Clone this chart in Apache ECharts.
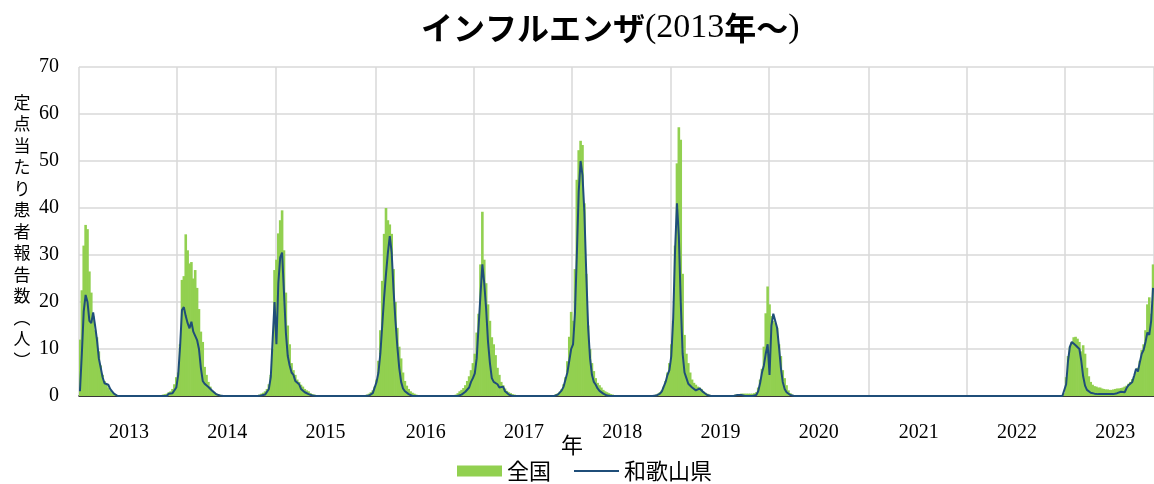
<!DOCTYPE html>
<html><head><meta charset="utf-8">
<script src="https://cdn.jsdelivr.net/npm/echarts@6/dist/echarts.min.js"></script>
<style>html,body{margin:0;padding:0;background:#fff}#c{width:1154px;height:484px}</style>
</head><body><div id="c"></div>
<script>
const years = [2013, 2014, 2015, 2016, 2017, 2018, 2019, 2020, 2021, 2022, 2023];

const national2013 = [12, 22.5, 32, 36.4, 35.5, 26.5, 22, 17, 14, 12.5,
 9.5, 6.5, 4.5, 3.2, 2.6, 1.8, 1.2, 0.8, 0.5, 0.3,
 0.2, 0.1, 0.1, 0.1, 0, 0, 0, 0, 0, 0,
 0, 0, 0, 0, 0, 0, 0, 0, 0, 0,
 0, 0, 0, 0.2, 0.3, 0.4, 0.5, 0.8, 1.0, 1.5,
 2.5, 4];
const wakayama2013 = [1, 9, 18, 21.5, 20, 16, 15.5, 17.8, 15, 12,
 8, 6, 4, 2.7, 2.3, 2.4, 1.5, 1, 0.5, 0.1,
 0, 0, 0, 0, 0, 0, 0, 0, 0, 0,
 0, 0, 0, 0, 0, 0, 0, 0, 0, 0,
 0, 0, 0, 0, 0, 0, 0, 0.5, 0.7, 0.6,
 0.8, 1.8];
const national2014 = [5, 11, 24.7, 25.5, 34.4, 31, 28.2, 28.5, 25, 26.8,
 23, 18.5, 13.7, 11.5, 6.2, 4.5, 3, 2, 1.2, 0.9,
 0.6, 0.4, 0.3, 0.2, 0.1, 0.1, 0, 0, 0, 0,
 0, 0, 0, 0, 0, 0, 0, 0, 0, 0,
 0, 0, 0, 0.3, 0.5, 0.7, 1.0, 1.5, 2.5, 4.5,
 10, 26.8];
const wakayama2014 = [4.5, 10.5, 18.3, 18.9, 17, 15.5, 14.4, 15.8, 13.7, 13.3,
 11.9, 10, 6, 3.2, 2.6, 2.3, 1.9, 1.5, 1.1, 0.8,
 0.4, 0.2, 0.1, 0, 0, 0, 0, 0, 0, 0,
 0, 0, 0, 0, 0, 0, 0, 0, 0, 0,
 0, 0, 0, 0, 0.1, 0.2, 0.3, 0.5, 1.5, 4,
 12, 20];
const national2015 = [29, 34.6, 37.4, 39.5, 31, 22, 15, 11, 7, 5.5,
 4.5, 3.5, 3, 2.4, 2, 1.5, 1.2, 1, 0.6, 0.4,
 0.3, 0.2, 0.1, 0.1, 0, 0, 0, 0, 0, 0,
 0, 0, 0, 0, 0, 0, 0, 0, 0, 0,
 0, 0, 0, 0, 0, 0, 0, 0, 0.3, 0.5,
 0.8, 1.2, 2];
const wakayama2015 = [11, 24, 29.5, 30.5, 22, 13.5, 8.5, 6.5, 5, 4.5,
 3.2, 3.5, 2.5, 1.5, 1.8, 0.8, 1, 0.4, 0.2, 0.1,
 0, 0, 0, 0, 0, 0, 0, 0, 0, 0,
 0, 0, 0, 0, 0, 0, 0, 0, 0, 0,
 0, 0, 0, 0, 0, 0, 0, 0, 0, 0.1,
 0.3, 0.6, 1];
const national2016 = [3.5, 7.5, 14, 24.5, 34.5, 40, 37.4, 36.5, 34.5, 27,
 20, 14.5, 10.5, 8, 5, 3.2, 2.2, 1.5, 1, 0.7,
 0.5, 0.3, 0.2, 0.1, 0, 0, 0, 0, 0, 0,
 0, 0, 0, 0, 0, 0, 0, 0, 0, 0,
 0, 0, 0.3, 0.6, 1.0, 1.3, 1.7, 2.3, 3.2, 4.2,
 5.5, 7];
const wakayama2016 = [3, 5, 9, 15, 21, 26, 30.5, 34, 30.5, 22.5,
 16, 10.5, 6, 3, 1.6, 1, 0.6, 0.4, 0.2, 0,
 0, 0, 0, 0, 0, 0, 0, 0, 0, 0,
 0, 0, 0, 0, 0, 0, 0, 0, 0, 0,
 0, 0, 0, 0, 0.1, 0.3, 0.5, 0.9, 1.2, 1.8,
 3, 3.8];
const national2017 = [9, 13.5, 17.5, 28, 39.2, 29, 24, 19.5, 16, 12.5,
 11, 8.7, 6, 4.5, 3, 2.3, 1.6, 1.1, 0.8, 0.6,
 0.4, 0.3, 0.2, 0.1, 0, 0, 0, 0, 0, 0,
 0, 0, 0, 0, 0, 0, 0, 0, 0, 0,
 0, 0, 0.2, 0.4, 0.6, 0.9, 1.5, 2.5, 4, 7.4,
 12.6, 17.9];
const wakayama2017 = [4.8, 8, 14.8, 21.5, 28, 24, 18.5, 11.5, 7, 3.8,
 3, 3, 2.5, 1.8, 1.8, 2, 1, 0.6, 0.3, 0.1,
 0, 0, 0, 0, 0, 0, 0, 0, 0, 0,
 0, 0, 0, 0, 0, 0, 0, 0, 0, 0,
 0, 0, 0, 0, 0.3, 0.6, 1.2, 2, 3.5, 5,
 7.5, 10];
const national2018 = [16, 27, 46, 52.3, 54.3, 53.4, 41, 26, 15, 10,
 7, 5.3, 3.8, 2.8, 2.3, 1.8, 1.3, 1, 0.8, 0.6,
 0.4, 0.3, 0.2, 0.1, 0, 0, 0, 0, 0, 0,
 0, 0, 0, 0, 0, 0, 0, 0, 0, 0,
 0, 0, 0, 0.2, 0.3, 0.5, 0.8, 1.2, 2, 3.2,
 5, 7];
const wakayama2018 = [11, 17.5, 30, 43.5, 50, 47, 39, 26, 14.5, 8,
 4.5, 3, 2.4, 1.6, 1.1, 0.8, 0.5, 0.3, 0.1, 0,
 0, 0, 0, 0, 0, 0, 0, 0, 0, 0,
 0, 0, 0, 0, 0, 0, 0, 0, 0, 0,
 0, 0, 0, 0, 0.1, 0.3, 0.5, 1, 2, 3,
 4.5, 5.5];
const national2019 = [11, 16, 32, 49.5, 57.2, 54.5, 26, 13, 9, 7,
 5, 3.5, 2.8, 2.4, 2, 1.8, 1.5, 1, 0.7, 0.5,
 0.3, 0.2, 0.1, 0.1, 0, 0, 0, 0, 0, 0,
 0, 0, 0, 0.2, 0.3, 0.3, 0.4, 0.5, 0.5, 0.5,
 0.5, 0.5, 0.5, 0.5, 0.6, 0.8, 1.8, 3.5, 5.8, 10.5,
 17.6, 23.3];
const wakayama2019 = [8.5, 16.5, 31, 41, 34, 20, 9, 5, 3.8, 2.6,
 2.2, 1.8, 1.5, 1.2, 1, 1.6, 1.4, 0.8, 0.4, 0.2,
 0, 0, 0, 0, 0, 0, 0, 0, 0, 0,
 0, 0, 0, 0, 0, 0.2, 0.5, 0.2, 0, 0,
 0, 0, 0, 0, 0, 0.2, 1, 2.7, 5, 6.5,
 9, 11];
const national2020 = [19.5, 17, 16, 15.5, 14.5, 11, 8.5, 5.5, 3.8, 2.3,
 1.2, 0.6, 0.3, 0.2, 0, 0, 0, 0, 0, 0,
 0, 0, 0, 0, 0, 0, 0, 0, 0, 0,
 0, 0, 0, 0, 0, 0, 0, 0, 0, 0,
 0, 0, 0, 0, 0, 0, 0, 0, 0, 0,
 0, 0, 0];
const wakayama2020 = [4.5, 15, 17.5, 17.3, 14.5, 10.5, 6, 3, 1.5, 0.8,
 0.4, 0.2, 0, 0, 0, 0, 0, 0, 0, 0,
 0, 0, 0, 0, 0, 0, 0, 0, 0, 0,
 0, 0, 0, 0, 0, 0, 0, 0, 0, 0,
 0, 0, 0, 0, 0, 0, 0, 0, 0, 0,
 0, 0, 0];
const national2021 = [0, 0, 0, 0, 0, 0, 0, 0, 0, 0,
 0, 0, 0, 0, 0, 0, 0, 0, 0, 0,
 0, 0, 0, 0, 0, 0, 0, 0, 0, 0,
 0, 0, 0, 0, 0, 0, 0, 0, 0, 0,
 0, 0, 0, 0, 0, 0, 0, 0, 0, 0,
 0, 0];
const wakayama2021 = [0, 0, 0, 0, 0, 0, 0, 0, 0, 0,
 0, 0, 0, 0, 0, 0, 0, 0, 0, 0,
 0, 0, 0, 0, 0, 0, 0, 0, 0, 0,
 0, 0, 0, 0, 0, 0, 0, 0, 0, 0,
 0, 0, 0, 0, 0, 0, 0, 0, 0, 0,
 0, 0];
const national2022 = [0, 0, 0, 0, 0, 0, 0, 0, 0, 0,
 0, 0, 0, 0, 0, 0, 0, 0, 0, 0,
 0, 0, 0, 0, 0, 0, 0, 0, 0, 0,
 0, 0, 0, 0, 0, 0, 0, 0, 0, 0,
 0, 0, 0, 0, 0, 0, 0, 0, 0, 0.1,
 0.2, 0.6];
const wakayama2022 = [0, 0, 0, 0, 0, 0, 0, 0, 0, 0,
 0, 0, 0, 0, 0, 0, 0, 0, 0, 0,
 0, 0, 0, 0, 0, 0, 0, 0, 0, 0,
 0, 0, 0, 0, 0, 0, 0, 0, 0, 0,
 0, 0, 0, 0, 0, 0, 0, 0, 0, 0,
 0, 0.2];
const national2023 = [4, 8.5, 10.5, 11.5, 12.5, 12.6, 12.2, 11.5, 9.5, 10.8,
 9, 6, 4.2, 3, 2.4, 2.1, 2, 1.8, 1.8, 1.6,
 1.5, 1.4, 1.4, 1.3, 1.3, 1.4, 1.5, 1.6, 1.6, 1.7,
 1.8, 2, 2.2, 2.6, 3, 3.6, 4.2, 5.2, 6, 7.5,
 9.8, 11, 14, 19.5, 21, 17.5, 28];
const wakayama2023 = [2.5, 7.5, 10.5, 11.5, 11.3, 10.8, 10.5, 10, 7.5, 4.2,
 2.2, 1.3, 0.9, 0.7, 0.6, 0.5, 0.5, 0.4, 0.4, 0.4,
 0.4, 0.4, 0.4, 0.4, 0.4, 0.4, 0.5, 0.6, 0.8, 0.9,
 0.5, 0.8, 1.7, 2.3, 2.5, 3, 4.3, 5.8, 5.2, 7.2,
 9, 9.8, 11.5, 13.5, 13, 16, 23];

const nationalByYear = [national2013, national2014, national2015, national2016, national2017, national2018, national2019, national2020, national2021, national2022, national2023];
const wakayamaByYear = [wakayama2013, wakayama2014, wakayama2015, wakayama2016, wakayama2017, wakayama2018, wakayama2019, wakayama2020, wakayama2021, wakayama2022, wakayama2023];

const categories = [];
const weekOfIndex = [];
const yearOfIndex = [];
years.forEach(function (y, k) {
  nationalByYear[k].forEach(function (v, w) {
    categories.push(y + '年第' + (w + 1) + '週');
    weekOfIndex.push(w);
    yearOfIndex.push(y);
  });
});
const nationalData = [].concat.apply([], nationalByYear);
const wakayamaData = [].concat.apply([], wakayamaByYear);

const chart = echarts.init(document.getElementById('c'), null, {renderer: 'canvas'});
chart.setOption({
  animation: false,
  backgroundColor: '#fff',
  title: {
    text: '{a|インフルエンザ}{b|(2013}{a|年～}{b|)}',
    left: 421,
    top: 11,
    padding: 0,
    textStyle: {
      rich: {
        a: {fontFamily: 'Noto Sans CJK JP', fontSize: 32, fontWeight: 'bold', color: '#000'},
        b: {fontFamily: 'Liberation Serif', fontSize: 34, fontWeight: 'normal', color: '#000'}
      }
    }
  },
  grid: {left: 79, right: 0, top: 67, bottom: 88, containLabel: false},
  legend: {
    left: 452, top: 455,
    itemWidth: 45, itemHeight: 11, itemGap: 22,
    textStyle: {fontFamily: 'Noto Sans CJK JP', fontSize: 22, color: '#000'},
    data: [{name: '全国', icon: 'rect'}, {name: '和歌山県', itemStyle: {opacity: 0}}]
  },
  graphic: [{
    type: 'text', left: 561, top: 434,
    style: {text: '年', font: '22px "Noto Sans CJK JP"', fill: '#000'}
  }],
  xAxis: {
    type: 'category',
    data: categories,
    boundaryGap: true,
    axisLine: {lineStyle: {color: '#000', width: 1.5}},
    axisTick: {show: false},
    axisLabel: {
      interval: function (i) { return weekOfIndex[i] === 26; },
      formatter: function (v, i) { return String(yearOfIndex[i]); },
      fontFamily: 'Liberation Serif', fontSize: 20, color: '#000', margin: 27
    },
    splitLine: {
      show: true,
      interval: function (i) { return weekOfIndex[i] === 0; },
      lineStyle: {color: '#d9d9d9', width: 1.5}
    }
  },
  yAxis: {
    type: 'value', min: 0, max: 70, interval: 10,
    axisLine: {show: false}, axisTick: {show: false},
    axisLabel: {fontFamily: 'Liberation Serif', fontSize: 20, color: '#000', margin: 20},
    splitLine: {lineStyle: {color: '#d9d9d9', width: 1.5}},
    name: '定\n点\n当\nた\nり\n患\n者\n報\n告\n数\n︵\n人\n︶',
    nameLocation: 'middle', nameGap: 57, nameRotate: 0,
    nameTextStyle: {fontFamily: 'Noto Sans CJK JP', fontSize: 17, lineHeight: 21.5, color: '#000', align: 'center', padding: [0, 0, 22, 0]}
  },
  series: [
    {name: '全国', type: 'bar', data: nationalData, barWidth: 2.6, barGap: '-100%', itemStyle: {color: '#92d050'}, z: 2},
    {name: '和歌山県', type: 'line', data: wakayamaData, symbol: 'none', showSymbol: false,
     lineStyle: {color: '#1f4e79', width: 2}, itemStyle: {color: '#1f4e79'}, z: 3}
  ]
});
</script>
</body></html>
